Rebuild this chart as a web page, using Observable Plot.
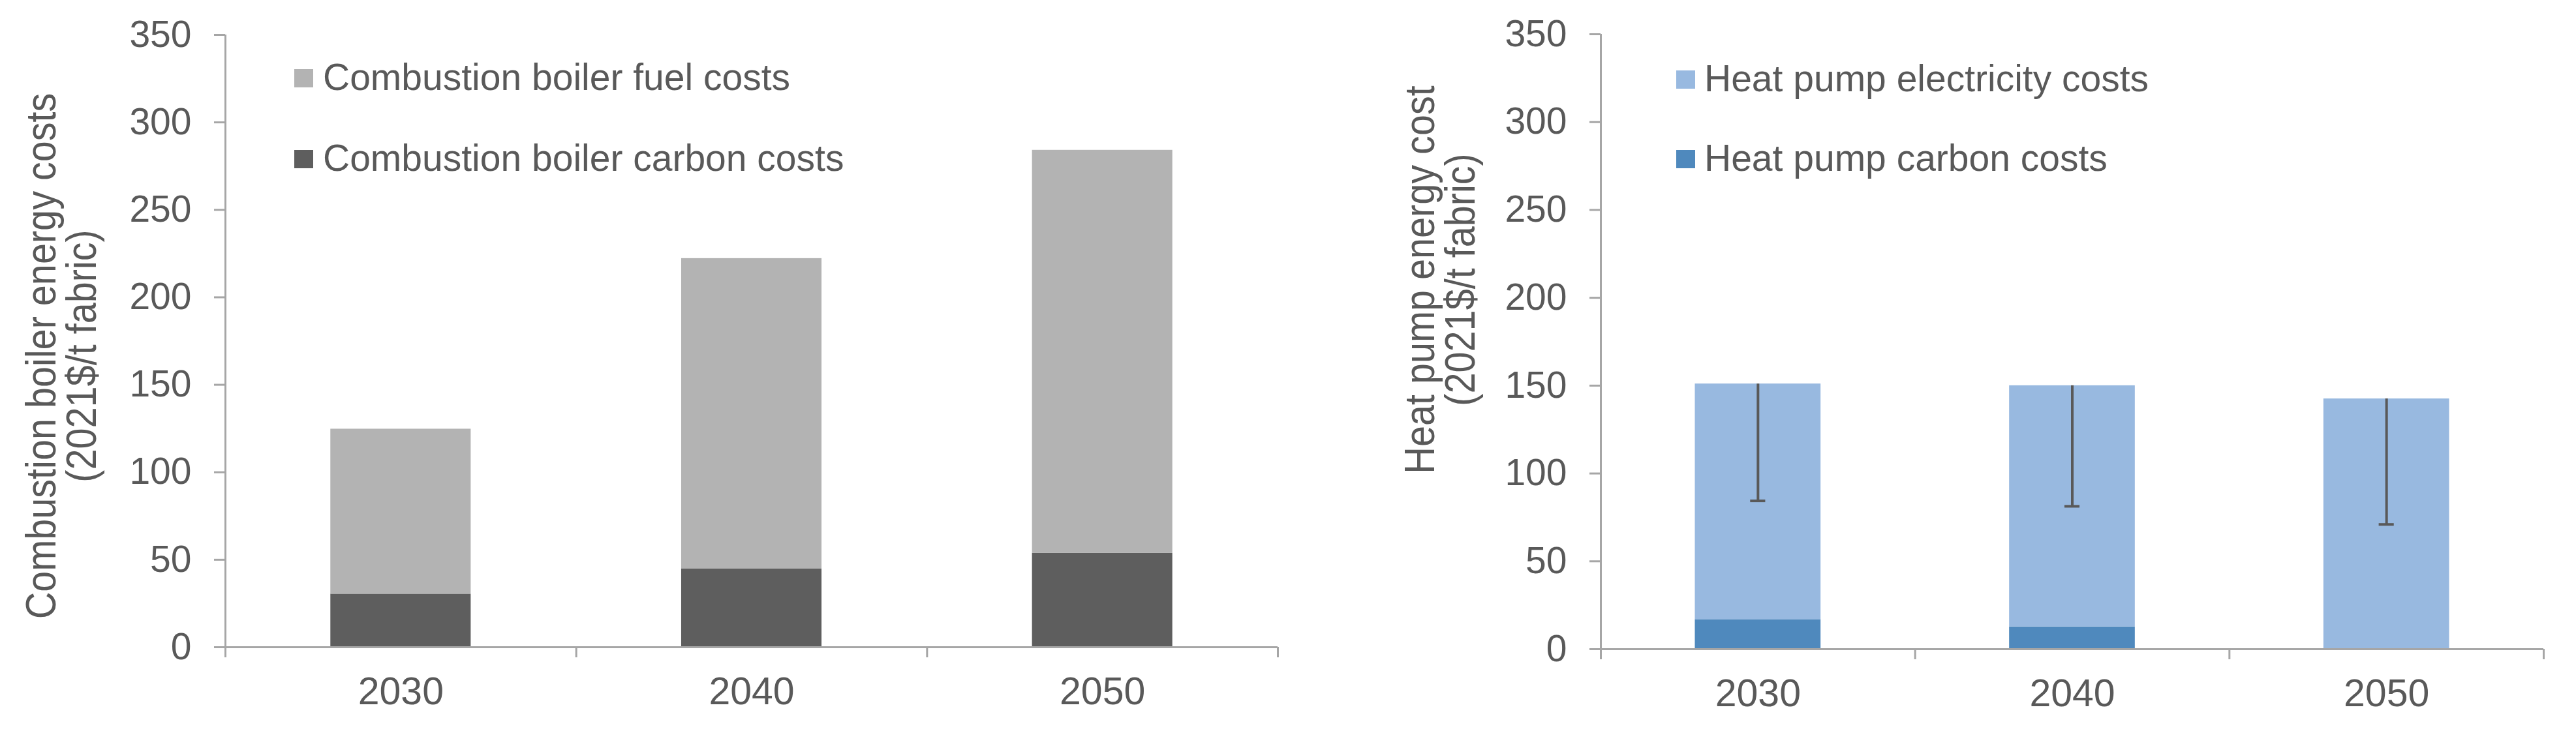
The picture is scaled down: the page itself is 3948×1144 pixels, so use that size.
<!DOCTYPE html>
<html><head><meta charset="utf-8">
<script src="https://cdn.jsdelivr.net/npm/d3@7"></script>
<script src="https://cdn.jsdelivr.net/npm/@observablehq/plot@0.6"></script>
<style>
html,body{margin:0;padding:0;background:#fff;}
#wrap{position:relative;width:3948px;height:1144px;overflow:hidden;background:#fff;font-family:"Liberation Sans",Arial,sans-serif;color:#595959;}
#wrap > svg{position:absolute;top:0;}
</style></head><body><div id="wrap"></div>
<script>
// ---- data ----
const years = ["2030", "2040", "2050"];
const boilerCarbon = [30.4, 44.9, 53.7];
const boilerFuel = [94.3, 177.3, 230.4];
const hpCarbon = [16.9, 12.7, 0];
const hpElectricity = [134.1, 137.3, 142.5];
const hpLow = [84.4, 81.3, 71.0];
const yTicks = [0, 50, 100, 150, 200, 250, 300, 350];
const boilerSeries = ["Combustion boiler fuel costs", "Combustion boiler carbon costs"];
const hpSeries = ["Heat pump electricity costs", "Heat pump carbon costs"];
const boilerColors = ["#B3B3B3", "#5E5E5E"];
const hpColors = ["#98B9E0", "#4F89BD"];
const boilerTitle = ["Combustion boiler energy costs", "(2021$/t fabric)"];
const hpTitle = ["Heat pump energy cost", "(2021$/t fabric)"];

const axisColor = "#A6A6A6";
const textColor = "#595959";
const font = "'Liberation Sans', Arial, sans-serif";
const wrap = document.getElementById("wrap");

function stackRows(bottomVals, topVals, series) {
  return years.flatMap((yr, i) => [
    {i, year: yr, series: series[1], y1: 0, y2: bottomVals[i]},
    {i, year: yr, series: series[0], y1: bottomVals[i], y2: bottomVals[i] + topVals[i]}
  ]);
}

function panel({rows, series, colors, errors, left, width, marginLeft, marginRight, marginTop, marginBottom}) {
  const n = years.length;
  const marks = [
    Plot.rect(rows, {x1: d => d.i + 0.3, x2: d => d.i + 0.7, y1: "y1", y2: "y2", fill: "series"})
  ];
  if (errors) {
    marks.push(
      Plot.ruleX(errors, {x: d => d.i + 0.5, y1: "hi", y2: "lo", stroke: textColor, strokeWidth: 4}),
      Plot.ruleY(errors, {y: "lo", x1: d => d.i + 0.476, x2: d => d.i + 0.524, stroke: textColor, strokeWidth: 4})
    );
  }
  marks.push(
    Plot.ruleX([0], {y1: 0, y2: d3.max(yTicks), stroke: axisColor, strokeWidth: 3}),
    Plot.ruleY([0], {stroke: axisColor, strokeWidth: 3}),
    Plot.axisY({ticks: yTicks, tickSize: 17, tickPadding: 35, stroke: axisColor, strokeWidth: 3, fontSize: 57, label: null}),
    Plot.axisX({ticks: d3.range(n + 1), tickSize: 16, stroke: axisColor, strokeWidth: 3, fill: "none", label: null}),
    Plot.axisX({ticks: years.map((_, i) => i + 0.5), tickFormat: v => years[Math.floor(v)], tickSize: 0, tickPadding: 46, fontSize: 59, label: null})
  );
  const svg = Plot.plot({
    width, height: 1144, marginLeft, marginRight, marginTop, marginBottom,
    style: {fontFamily: font, color: textColor, background: "transparent", overflow: "visible"},
    x: {type: "linear", domain: [0, n]},
    y: {domain: [0, d3.max(yTicks)]},
    color: {domain: series, range: colors},
    marks
  });
  svg.style.left = left + "px";
  wrap.appendChild(svg);
}

panel({
  rows: stackRows(boilerCarbon, boilerFuel, boilerSeries),
  series: boilerSeries, colors: boilerColors,
  left: 0, width: 1980, marginLeft: 345, marginRight: 22, marginTop: 53, marginBottom: 152
});
panel({
  rows: stackRows(hpCarbon, hpElectricity, hpSeries),
  series: hpSeries, colors: hpColors,
  errors: years.map((yr, i) => ({i, hi: hpCarbon[i] + hpElectricity[i], lo: hpLow[i]})),
  left: 1980, width: 1968, marginLeft: 473, marginRight: 50, marginTop: 52, marginBottom: 149
});

// ---- overlay: axis titles and legends ----
const ov = d3.select(wrap).append("svg")
  .attr("width", 3948).attr("height", 1144)
  .style("left", "0px").style("pointer-events", "none")
  .attr("font-family", font).attr("fill", textColor);

function title(lines, xs, cy) {
  lines.forEach((t, k) => {
    ov.append("text")
      .attr("transform", `translate(${xs[k]},${cy}) rotate(-90) scale(0.9,1)`)
      .attr("text-anchor", "middle").attr("font-size", 64).text(t);
  });
}
title(boilerTitle, [85, 147], 546);
title(hpTitle, [2198, 2260], 429);

function legend(series, colors, sx, tx, rows) {
  series.forEach((s, k) => {
    const r = rows[k];
    ov.append("rect").attr("x", sx).attr("y", r.top).attr("width", 29).attr("height", 28).attr("fill", colors[k]);
    ov.append("text").attr("x", tx).attr("y", r.base).attr("font-size", 57).text(s);
  });
}
legend(boilerSeries, boilerColors, 451, 495, [{top: 106, base: 138}, {top: 230, base: 262}]);
legend(hpSeries, hpColors, 2569, 2612, [{top: 108, base: 140}, {top: 230, base: 262}]);
</script>
</body></html>
